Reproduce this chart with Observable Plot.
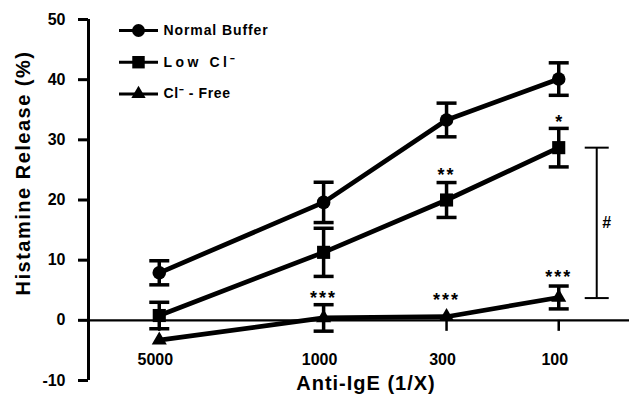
<!DOCTYPE html>
<html>
<head>
<meta charset="utf-8">
<script src="https://cdn.jsdelivr.net/npm/d3@7"></script>
<script src="https://cdn.jsdelivr.net/npm/@observablehq/plot@0.6"></script>
<style>
  html, body { margin: 0; padding: 0; background: #fff; }
  #chart { width: 630px; height: 394px; }
</style>
</head>
<body>
<div id="chart"></div>
<script>
// ---- data ----
const doses = [5000, 1000, 300, 100];               // Anti-IgE dilution (1/X)
const doseLabels = ["5000", "1000", "300", "100"];
const yTicks = [-10, 0, 10, 20, 30, 40, 50];
const seriesNames = ["Normal Buffer", "Low Cl\u207B", "Cl\u207B - Free"];

const normalMean = [7.9, 19.6, 33.3, 40.1];
const normalErr  = [2.0, 3.35, 2.8, 2.7];
const lowMean    = [0.8, 11.3, 20.0, 28.7];
const lowErr     = [2.2, 4.0, 2.9, 3.2];
const freeMean   = [-3.3, 0.4, 0.6, 3.8];
const freeErr    = [0, 2.2, 0, 1.9];

const starDose   = [100, 300, 1000, 300, 100];
const starLevel  = [33.6, 24.8, 4.3, 4.0, 7.8];
const starText   = ["*", "**", "***", "***", "***"];

const bracketDose = 100;
const bracketLow  = 3.7;
const bracketHigh = 28.7;
const bracketText = "#";

// ---- build table ----
const means = [normalMean, lowMean, freeMean];
const errs = [normalErr, lowErr, freeErr];
const rows = seriesNames.flatMap((s, i) =>
  doses.map((d, j) => ({series: s, idx: i, dose: d, mean: means[i][j], err: errs[i][j]})));
const withErr = rows.filter(r => r.err > 0.5);
const stars = starDose.map((d, i) => ({dose: d, level: starLevel[i], text: starText[i]}));
const bracket = [{dose: bracketDose, lo: bracketLow, hi: bracketHigh, text: bracketText}];

const cap = (hw) => ({draw(ctx) { ctx.moveTo(-hw, 0); ctx.lineTo(hw, 0); }});
const symbols = ["circle", "square", "triangle"];
const radii = [6.8, 7.4, 5.6];

const legendMarks = seriesNames.flatMap((name, i) => {
  const dy = 11 + 31.7 * i;
  return [
    Plot.dot([name], {frameAnchor: "top-left", dx: 50, dy, symbol: cap(19.5), stroke: "black", strokeWidth: 3, fill: "none"}),
    Plot.dot([name], {frameAnchor: "top-left", dx: 50, dy, symbol: symbols[i], r: radii[i] * 0.95, fill: "black"}),
    Plot.text([name], {frameAnchor: "top-left", dx: 75, dy, text: d => d, textAnchor: "start", lineAnchor: "middle", fontSize: 14, fontWeight: "bold", fill: "black"})
  ];
});

const chart = Plot.plot({
  width: 630,
  height: 394,
  marginLeft: 88,
  marginRight: 1,
  marginTop: 19,
  marginBottom: 14,
  style: {fontFamily: "'Liberation Sans', Arial, sans-serif", fontWeight: "bold", color: "black", background: "white"},
  x: {type: "log", domain: [10000, 50], axis: null},
  y: {domain: [-10, 50], axis: null},
  marks: [
    // axes
    Plot.ruleY([0], {strokeWidth: 2.2, stroke: "black"}),
    Plot.ruleX(doses, {x: d => d, y1: 0, y2: 0, insetBottom: -11, strokeWidth: 2.5, stroke: "black"}),
    Plot.text(doseLabels, {x: (d, i) => doses[i], text: d => d, frameAnchor: "bottom", lineAnchor: "middle", dy: -21, dx: -4, fontSize: 16, fontWeight: "bold", fill: "black"}),
    Plot.ruleX([10000], {strokeWidth: 3, stroke: "black"}),
    Plot.axisY({ticks: yTicks, tickSize: 10, tickPadding: 13, strokeWidth: 3, fontSize: 16, fontWeight: "bold", label: null, tickFormat: d => String(d)}),
    Plot.text(["Histamine Release (%)"], {frameAnchor: "left", textAnchor: "middle", lineAnchor: "middle", rotate: -90, dx: -65, dy: -27, text: d => d, fontSize: 20, fontWeight: "bold", fill: "black"}),
    Plot.text(["Anti-IgE (1/X)"], {frameAnchor: "bottom", lineAnchor: "middle", dx: 7, dy: 3, text: d => d, fontSize: 20, fontWeight: "bold", fill: "black"}),
    // series
    Plot.line(rows, {x: "dose", y: "mean", z: "series", stroke: "black", strokeWidth: 4.7}),
    Plot.ruleX(withErr, {x: "dose", y1: d => d.mean - d.err, y2: d => d.mean + d.err, stroke: "black", strokeWidth: 3.5}),
    Plot.dot(withErr, {x: "dose", y: d => d.mean + d.err, symbol: cap(10), stroke: "black", strokeWidth: 3.5, fill: "none"}),
    Plot.dot(withErr, {x: "dose", y: d => d.mean - d.err, symbol: cap(10), stroke: "black", strokeWidth: 3.5, fill: "none"}),
    ...symbols.map((s, i) => Plot.dot(rows.filter(r => r.idx === i), {x: "dose", y: "mean", symbol: s, r: radii[i], fill: "black"})),
    // significance
    Plot.text(stars, {x: "dose", y: "level", text: "text", dy: 4, fontSize: 18, fontWeight: "bold", fill: "black"}),
    Plot.ruleX(bracket, {x: "dose", y1: "lo", y2: "hi", dx: 38, stroke: "black", strokeWidth: 2}),
    Plot.dot(bracket, {x: "dose", y: "lo", dx: 38, symbol: cap(12), stroke: "black", strokeWidth: 2, fill: "none"}),
    Plot.dot(bracket, {x: "dose", y: "hi", dx: 38, symbol: cap(12), stroke: "black", strokeWidth: 2, fill: "none"}),
    Plot.text(bracket, {x: "dose", y: d => (d.lo + d.hi) / 2, text: "text", dx: 48, fontSize: 16, fontWeight: "bold", fill: "black"}),
    // legend
    ...legendMarks
  ]
});

// typographic spacing like the original
const spacing = {"Normal Buffer": "0.9px", "Low Cl\u207B": "3.5px", "Cl\u207B - Free": "0.6px", "Anti-IgE (1/X)": "1px", "Histamine Release (%)": "1.5px", "***": "2px", "**": "2px"};
chart.querySelectorAll("text").forEach(t => {
  const s = spacing[t.textContent];
  if (s) t.style.letterSpacing = s;
});
document.getElementById("chart").appendChild(chart);
</script>
</body>
</html>
